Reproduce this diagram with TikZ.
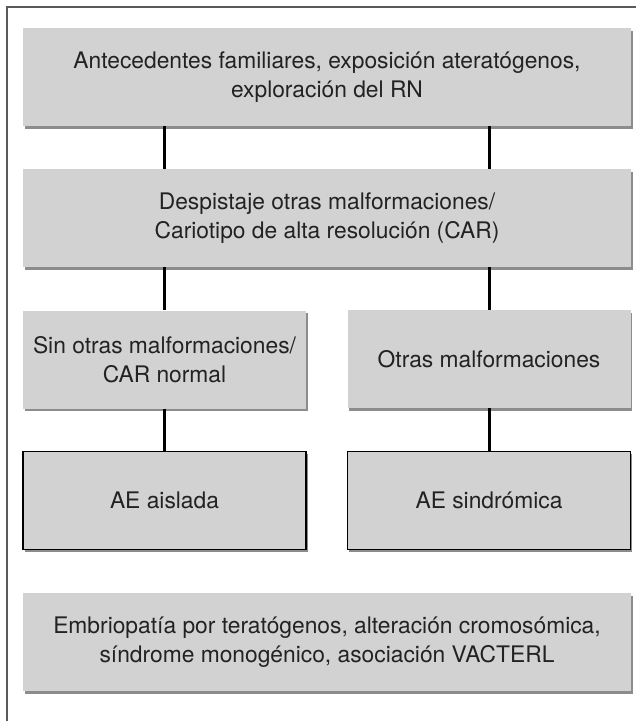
\documentclass[tikz,border=0pt]{standalone}
\usepackage{fontspec}
\setmainfont{TeX Gyre Heros}
\usetikzlibrary{shadows}
\definecolor{boxgray}{HTML}{D2D2D2}
\definecolor{framegray}{HTML}{5A5A5A}
\definecolor{textgray}{HTML}{222222}

\begin{document}
\begin{tikzpicture}[x=1pt,y=-1pt,
    box/.style={fill=boxgray, text=textgray, align=center, inner sep=0pt,
      font=\fontsize{22.8}{28.5}\selectfont, minimum height=98pt,
      drop shadow={shadow xshift=1.5pt, shadow yshift=-2.5pt, fill=black, opacity=0.45}},
    widebox/.style={box, minimum width=608pt},
    halfbox/.style={box, minimum width=283pt},
    leafbox/.style={halfbox, draw=black, line width=1.2pt}]
  \useasboundingbox (0,0) rectangle (636,721);
  \draw[framegray, line width=2pt] (7,721) -- (7,7) -- (636,7);

  \node[widebox, name=antec] at (327,77)
    {Antecedentes familiares, exposición ateratógenos,\\exploración del RN};
  \node[widebox, name=despist] at (327,218)
    {Despistaje otras malformaciones/\\Cariotipo de alta resolución (CAR)};
  \node[halfbox, name=sinotras] at (164.5,359.5)
    {Sin otras malformaciones/\\CAR normal};
  \node[halfbox, name=otras] at (489,359)
    {Otras malformaciones};
  \node[leafbox, name=aislada] at (164.5,500.5) {AE aislada};
  \node[leafbox, name=sindrom] at (489,500.5) {AE sindrómica};
  \node[widebox, name=embrio] at (327,642)
    {Embriopatía por teratógenos, alteración cromosómica,\\síndrome monogénico, asociación VACTERL};

  \path[-, line width=3pt]
     (antec.south -| sinotras.north) edge (despist.north -| sinotras.north)
     (antec.south -| otras.north) edge (despist.north -| otras.north)
     (despist.south -| sinotras.north) edge (sinotras.north)
     (despist.south -| otras.north) edge (otras.north)
     (sinotras) edge (aislada)
     (otras) edge (sindrom);
\end{tikzpicture}
\end{document}
